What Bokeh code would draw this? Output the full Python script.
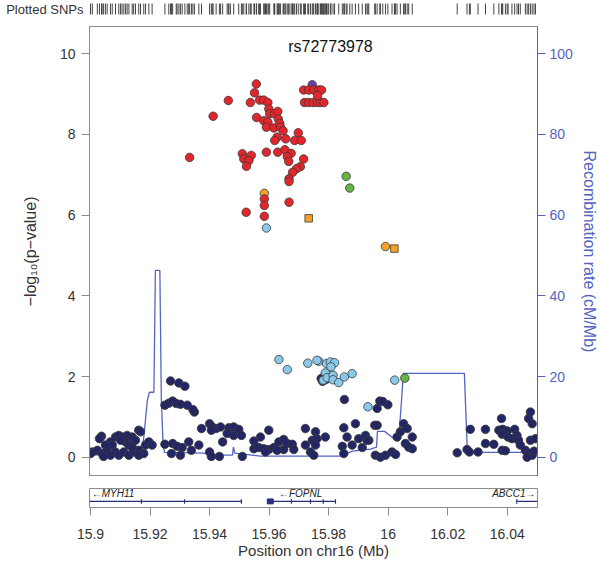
from bokeh.plotting import figure
from bokeh.models import Range1d, LinearAxis, FixedTicker, Label, CustomJSTickFormatter
from bokeh.layouts import column
from bokeh.embed import file_html
from bokeh.resources import INLINE

FONT = "Liberation Sans"

# ---------------- data ----------------
red_x = [15.9557, 15.9551, 15.9463, 15.9537, 15.9568, 15.9582, 15.9596, 15.9412, 15.9558, 15.9599,
         15.9602, 15.9618, 15.9629, 15.9582, 15.9596, 15.9591, 15.9616, 15.9631, 15.9636, 15.9638,
         15.9647, 15.9627, 15.9619, 15.9656, 15.9698, 15.9686, 15.9708, 15.9333, 15.9510, 15.9515,
         15.9540, 15.9532, 15.9524, 15.9591, 15.9629, 15.9653, 15.9674, 15.9661, 15.9666, 15.9716,
         15.9705, 15.9692, 15.9679, 15.9667, 15.9667, 15.9584, 15.9584, 15.9523, 15.9584, 15.9667,
         15.9716, 15.9733, 15.9750, 15.9767, 15.9776, 15.9719, 15.9733, 15.9748, 15.9762, 15.9773,
         15.9784, 15.9763]
red_y = [9.25, 9.03, 8.84, 8.79, 8.85, 8.85, 8.79, 8.45, 8.42, 8.63,
         8.51, 8.51, 8.57, 8.34, 8.30, 8.18, 8.16, 8.38, 8.27, 8.18,
         8.09, 7.93, 7.85, 7.89, 8.04, 7.85, 7.85, 7.43, 7.52, 7.39,
         7.48, 7.35, 7.21, 7.56, 7.56, 7.62, 7.53, 7.45, 7.33, 7.39,
         7.20, 7.15, 7.06, 6.90, 6.83, 6.40, 6.24, 6.07, 5.97, 6.32,
         9.10, 9.10, 9.10, 9.10, 9.10, 8.79, 8.79, 8.79, 8.79, 8.79,
         8.79, 8.96]

lead_x = [15.9745]
lead_y = [9.23]

orange_x = [15.9584, 15.9991]
orange_y = [6.54, 5.22]
orange_sq_x = [15.9733, 16.0021]
orange_sq_y = [5.92, 5.17]

green_x = [15.9859, 15.9871, 16.0056]
green_y = [6.96, 6.67, 1.96]

lblue_x = [15.9591, 15.9730, 15.9767, 15.9793, 15.9806, 15.9820, 15.9808, 15.9789, 15.9782, 15.9795,
           15.9815, 15.9815, 15.9834, 15.9853, 15.9879, 16.0022, 15.9932, 15.9633, 15.9661, 15.9761]
lblue_y = [5.68, 2.33, 2.38, 2.32, 2.36, 2.34, 2.24, 2.09, 1.91, 1.97,
           2.03, 1.92, 1.85, 1.99, 2.07, 1.91, 1.25, 2.42, 2.17, 2.40]

navy_x = [15.9775, 15.9785, 15.9792, 15.9800, 15.9780,
          15.9269, 15.9297, 15.9317, 15.9250, 15.9263, 15.9276, 15.9288, 15.9302, 15.9325, 15.9349, 15.9344,
          15.9853, 15.9972, 15.9999, 15.9963, 15.9982,
          15.9373, 15.9400, 15.9409, 15.9422, 15.9437, 15.9406, 15.9470, 15.9481, 15.9444, 15.9250,
          15.9276, 15.9291, 15.9308, 15.9330, 15.9339, 15.9364, 15.9272, 15.9302, 15.9400, 15.9406, 15.9433,
          15.9037, 15.9030, 15.9084, 15.9095, 15.9106, 15.9123, 15.9140, 15.9151, 15.9162, 15.9168,
          15.9118, 15.9129, 15.9067, 15.9073, 15.9006, 15.9023, 15.9039, 15.9056, 15.9067, 15.9084,
          15.9095, 15.9112, 15.9129, 15.9145, 15.9162, 15.9179, 15.9185, 15.9196, 15.9207, 15.9162,
          15.9000, 15.9044, 15.9140, 15.9101, 15.9050,
          15.9465, 15.9481, 15.9498, 15.9507, 15.9459, 15.9599, 15.9549, 15.9571, 15.9549, 15.9565,
          15.9582, 15.9599, 15.9616, 15.9633, 15.9649, 15.9661, 15.9678, 15.9683, 15.9649, 15.9627,
          15.9588, 15.9510, 15.9722, 15.9756, 15.9722, 15.9739, 15.9750, 15.9745, 15.9761, 15.9756,
          15.9789, 15.9851, 15.9890, 15.9862, 15.9846, 15.9851, 15.9879, 15.9901, 15.9924, 15.9935,
          15.9913, 15.9955,
          15.9963, 15.9929, 15.9957, 15.9974, 15.9991, 16.0013, 16.0025, 16.0030, 16.0041, 16.0052,
          16.0064, 16.0081, 16.0058, 16.0069, 16.0081,
          16.0232, 16.0276, 16.0265, 16.0273, 16.0302, 16.0327, 16.0327, 16.0355, 16.0381, 16.0372,
          16.0385, 16.0400, 16.0383, 16.0403, 16.0425, 16.0416, 16.0433, 16.0438, 16.0444, 16.0383,
          16.0394, 16.0461, 16.0472, 16.0484, 16.0478, 16.0472, 16.0484, 16.0478, 16.0495, 16.0467,
          16.0490]
navy_y = [1.95, 2.00, 1.93, 2.02, 1.88,
          1.89, 1.84, 1.76, 1.29, 1.34, 1.39, 1.33, 1.31, 1.29, 1.12, 1.18,
          1.43, 1.39, 1.30, 1.21, 1.38,
          0.71, 0.83, 0.75, 0.71, 0.75, 0.67, 0.71, 0.54, 0.38, 0.32,
          0.34, 0.27, 0.24, 0.38, 0.17, 0.30, 0.09, 0.05, 0.13, 0.02, 0.02,
          0.52, 0.46, 0.50, 0.54, 0.50, 0.54, 0.50, 0.42, 0.67, 0.63,
          0.38, 0.30, 0.38, 0.30, 0.13, 0.17, 0.09, 0.17, 0.05, 0.13,
          0.05, 0.13, 0.05, 0.13, 0.17, 0.09, 0.30, 0.38, 0.30, 0.05,
          0.09, 0.02, 0.25, 0.42, 0.30,
          0.73, 0.75, 0.69, 0.54, 0.59, 0.67, 0.40, 0.50, 0.21, 0.24,
          0.21, 0.19, 0.24, 0.38, 0.44, 0.34, 0.32, 0.19, 0.19, 0.17,
          0.13, 0.02, 0.71, 0.63, 0.30, 0.13, 0.05, 0.42, 0.46, 0.30,
          0.50, 0.73, 0.83, 0.50, 0.27, 0.09, 0.30, 0.46, 0.54, 0.42,
          0.24, 0.79,
          0.79, 0.42, 0.05, 0.00, 0.05, 0.13, 0.07, 0.50, 0.63, 0.83,
          0.71, 0.50, 0.34, 0.25, 0.21,
          0.11, 0.69, 0.19, 0.13, 0.13, 0.69, 0.34, 0.32, 0.96, 0.67,
          0.69, 0.65, 0.57, 0.50, 0.69, 0.46, 0.54, 0.42, 0.30, 0.17,
          0.16, 0.17, 0.09, 0.05, 1.12, 0.96, 0.83, 0.42, 0.46, 0.00,
          0.15]

# recombination rate (cM/Mb)
rec_x = [15.9000, 15.9161, 15.9178, 15.9191, 15.9198, 15.9213, 15.9218, 15.9233, 15.9238, 15.9244,
         15.9249, 15.9380, 15.9420, 15.9477, 15.9480, 15.9485, 15.9571, 15.9705, 15.9840, 15.9880,
         15.9941, 15.9961, 15.9964, 15.9988, 16.0018, 16.0035, 16.0045, 16.0051, 16.0256, 16.0266,
         16.0280, 16.0501]
rec_y = [0.5, 1.0, 4.2, 14.1, 16.1, 16.1, 46.3, 46.3, 14.1, 3.0,
         1.2, 1.0, 0.5, 0.5, 2.5, 1.0, 0.25, 0.25, 0.25, 1.5,
         2.0, 2.5, 6.4, 6.4, 4.7, 4.0, 14.1, 20.8, 20.8, 1.7,
         1.2, 1.2]

# genes
gene_names = ["MYH11", "FOPNL", "ABCC1"]
gene_start = [15.8990, 15.9594, 16.0432]
gene_end = [15.9507, 15.9823, 16.0510]
gene_strand = ["-", "-", "+"]
exon_x = [15.9171, 15.9316, 15.9507, 15.9675, 15.9739, 15.9782, 15.9823, 16.0432]
block_start = [15.9594]
block_end = [15.9614]

x_ticks = [15.9, 15.92, 15.94, 15.96, 15.98, 16.0, 16.02, 16.04]
y_ticks = [0, 2, 4, 6, 8, 10]
rec_ticks = [0, 20, 40, 60, 80, 100]

lead_snp = "rs72773978"

# ---------------- styles ----------------
X0, X1 = 15.89966, 16.05018
Y0, Y1 = -0.478, 10.674
NAVY = "#232664"
LBLUE = "#8AC8EA"
GREEN = "#66B447"
ORANGE = "#F4A127"
RED = "#E3262B"
PURPLE = "#6E3FA0"
EDGE = "#3a3a3a"
REC = "#5564BE"
GRAY = "#8c8c8c"
TXT = "#333333"
W = 600
BL, BR = 89, 63

# ---------------- rug (Plotted SNPs) ----------------
x_range = Range1d(X0, X1)
r = figure(width=W, height=26, output_backend="svg", toolbar_location=None,
           x_range=x_range, y_range=Range1d(17, 0),
           x_axis_location=None, y_axis_location=None,
           min_border_left=BL, min_border_right=BR, min_border_top=0, min_border_bottom=9)
r.outline_line_color = None
r.grid.visible = False
all_x = sorted(set(red_x + lead_x + orange_x + orange_sq_x + green_x + lblue_x + navy_x))
r.segment(x0=all_x, y0=3, x1=all_x, y1=14, line_color="#444444", line_width=1)
rug_axis = LinearAxis(ticker=FixedTicker(ticks=[]), axis_label="Plotted SNPs",
                      axis_label_orientation="horizontal")
rug_axis.axis_line_color = None
rug_axis.major_tick_line_color = None
rug_axis.minor_tick_line_color = None
rug_axis.major_label_text_font_size = "0px"
rug_axis.axis_label_text_font = FONT
rug_axis.axis_label_text_font_size = "13px"
rug_axis.axis_label_text_font_style = "normal"
rug_axis.axis_label_text_color = TXT
rug_axis.axis_label_standoff = 6
r.add_layout(rug_axis, "left")

# ---------------- main panel ----------------
p = figure(width=W, height=450, output_backend="svg", toolbar_location=None,
           x_range=x_range, y_range=Range1d(Y0, Y1),
           x_axis_location=None, y_axis_location="left",
           min_border_left=BL, min_border_right=BR, min_border_top=0, min_border_bottom=0)
p.grid.visible = False
p.outline_line_color = GRAY
p.extra_y_ranges = {"recomb": Range1d(Y0 * 10, Y1 * 10)}

ya = p.yaxis[0]
ya.ticker = FixedTicker(ticks=y_ticks)
ya.minor_tick_line_color = None
ya.major_tick_out = 8
ya.major_tick_in = 0
ya.axis_line_color = GRAY
ya.major_tick_line_color = GRAY
ya.major_label_text_font = FONT
ya.major_label_text_font_size = "14px"
ya.major_label_text_color = TXT
ya.major_label_standoff = 6
ya.axis_label = "\u2212log\u2081\u2080(p\u2212value)"
ya.axis_label_text_font = FONT
ya.axis_label_text_font_size = "16px"
ya.axis_label_text_font_style = "normal"
ya.axis_label_text_color = TXT
ya.axis_label_standoff = 18

ra = LinearAxis(y_range_name="recomb", ticker=FixedTicker(ticks=rec_ticks),
                axis_label="Recombination rate (cM/Mb)")
ra.minor_tick_line_color = None
ra.major_tick_out = 8
ra.major_tick_in = 0
ra.axis_line_color = REC
ra.major_tick_line_color = REC
ra.major_label_text_font = FONT
ra.major_label_text_font_size = "14px"
ra.major_label_text_color = REC
ra.major_label_standoff = 4
ra.axis_label_text_font = FONT
ra.axis_label_text_font_size = "16px"
ra.axis_label_text_font_style = "normal"
ra.axis_label_text_color = REC
ra.axis_label_standoff = 5
p.add_layout(ra, "right")

p.line(rec_x, rec_y, y_range_name="recomb", line_color=REC, line_width=1.3)

p.scatter(navy_x, navy_y, marker="circle", size=8.5, fill_color=NAVY, line_color=EDGE, line_width=0.8)
p.scatter(lblue_x, lblue_y, marker="circle", size=8.5, fill_color=LBLUE, line_color=EDGE, line_width=0.8)
p.scatter(green_x, green_y, marker="circle", size=8.5, fill_color=GREEN, line_color=EDGE, line_width=0.8)
p.scatter(orange_x, orange_y, marker="circle", size=8.5, fill_color=ORANGE, line_color=EDGE, line_width=0.8)
p.scatter(orange_sq_x, orange_sq_y, marker="square", size=7.5, fill_color=ORANGE, line_color=EDGE, line_width=0.8)
p.scatter(lead_x, lead_y, marker="circle", size=8.5, fill_color=PURPLE, line_color=EDGE, line_width=0.8)
p.scatter(red_x, red_y, marker="circle", size=8.5, fill_color=RED, line_color=EDGE, line_width=0.8)

p.add_layout(Label(x=15.98063, y=10.17, text=lead_snp, text_align="center", text_baseline="middle",
                   text_font=FONT, text_font_size="16px", text_color="#111111"))

# ---------------- gene panel ----------------
g = figure(width=W, height=85, output_backend="svg", toolbar_location=None,
           x_range=x_range, y_range=Range1d(0, 1), y_axis_location=None,
           min_border_left=BL, min_border_right=BR, min_border_top=12, min_border_bottom=54)
g.grid.visible = False
g.outline_line_color = GRAY
xa = g.xaxis[0]
xa.ticker = FixedTicker(ticks=x_ticks)
xa.formatter = CustomJSTickFormatter(code="return String(Math.round(tick*100)/100);")
xa.minor_tick_line_color = None
xa.major_tick_out = 8
xa.major_tick_in = 0
xa.axis_line_color = GRAY
xa.major_tick_line_color = GRAY
xa.major_label_text_font = FONT
xa.major_label_text_font_size = "14px"
xa.major_label_text_color = TXT
xa.major_label_standoff = 13
xa.axis_label = "Position on chr16 (Mb)"
xa.axis_label_text_font = FONT
xa.axis_label_text_font_size = "15px"
xa.axis_label_text_font_style = "normal"
xa.axis_label_text_color = TXT
xa.axis_label_standoff = 0

GENE = "#27307A"
g.segment(x0=gene_start, y0=0.32, x1=gene_end, y1=0.32, line_color=GENE, line_width=1.2)
g.segment(x0=exon_x, y0=0.2, x1=exon_x, y1=0.44, line_color=GENE, line_width=1.2)
g.quad(left=block_start, right=block_end, bottom=0.19, top=0.45, fill_color=GENE, line_color=GENE)

label_x = [15.9004, 15.9706, 16.0495]
label_align = ["left", "center", "right"]
for name, strand, lx, al in zip(gene_names, gene_strand, label_x, label_align):
    txt = ("\u2190" + name) if strand == "-" else (name + "\u2192")
    g.add_layout(Label(x=lx, y=0.76, text=txt, text_align=al, text_baseline="middle",
                       text_font=FONT, text_font_size="10px", text_font_style="italic",
                       text_color="#222222"))

layout = column(r, p, g)
open("out.html", "w").write(file_html(layout, INLINE))
